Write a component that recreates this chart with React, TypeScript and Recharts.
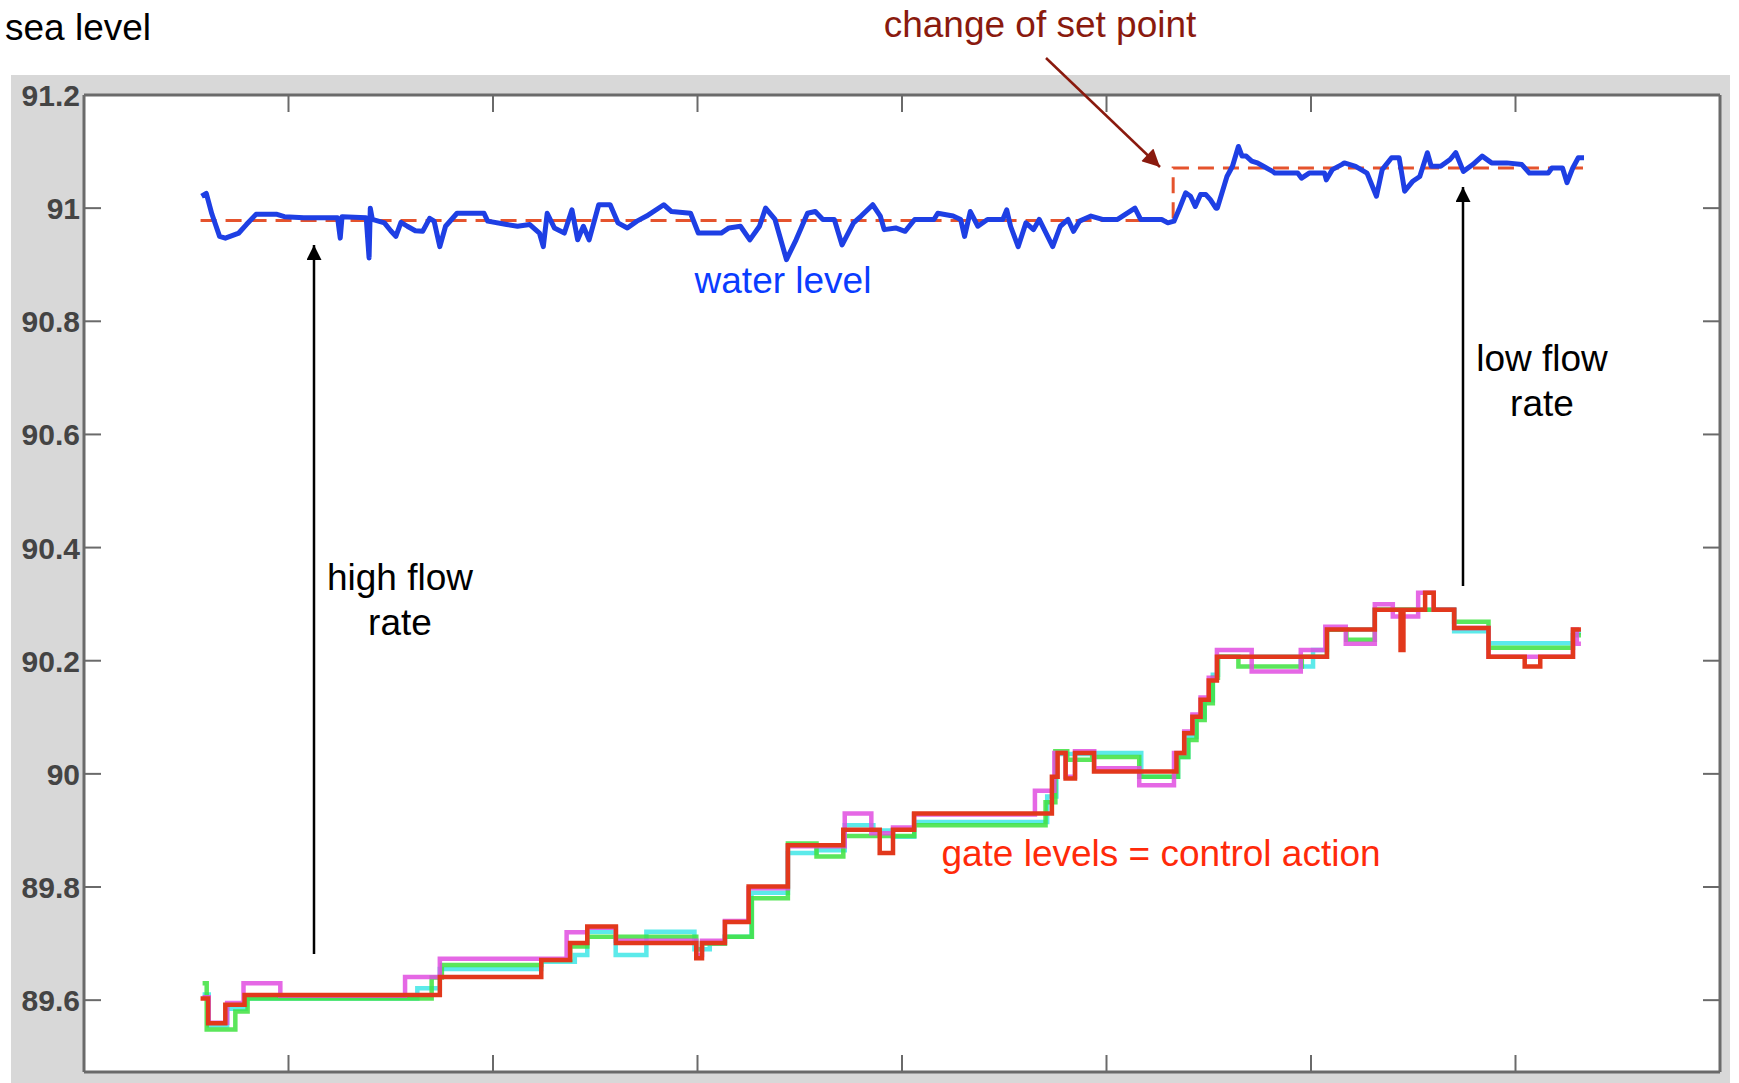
import { LineChart, Line, XAxis, YAxis, CartesianGrid } from 'recharts';

// sea level readings, x in time units (axis runs 0..8)
const waterLevel: [number, number][] = [
  [0.575, 91.021], [0.598, 91.026], [0.625, 90.99], [0.663, 90.95], [0.691, 90.947],
  [0.757, 90.956], [0.794, 90.971], [0.841, 90.989], [0.944, 90.989], [0.98, 90.985],
  [1.075, 90.983], [1.24, 90.983], [1.253, 90.947], [1.262, 90.985], [1.38, 90.983],
  [1.394, 90.912], [1.4, 91.0], [1.41, 90.98], [1.469, 90.974], [1.5, 90.96],
  [1.525, 90.95], [1.55, 90.975], [1.581, 90.968], [1.62, 90.96], [1.656, 90.959],
  [1.69, 90.982], [1.712, 90.977], [1.74, 90.932], [1.768, 90.968], [1.824, 90.991],
  [1.956, 90.991], [1.974, 90.977], [2.067, 90.971], [2.12, 90.968], [2.18, 90.971],
  [2.227, 90.956], [2.246, 90.932], [2.265, 90.991], [2.3, 90.965], [2.349, 90.956],
  [2.386, 90.997], [2.414, 90.944], [2.442, 90.968], [2.47, 90.944], [2.517, 91.006],
  [2.573, 91.006], [2.611, 90.974], [2.657, 90.965], [2.704, 90.977], [2.751, 90.986],
  [2.835, 91.006], [2.873, 90.994], [2.966, 90.991], [3.004, 90.956], [3.116, 90.956],
  [3.154, 90.965], [3.21, 90.968], [3.256, 90.944], [3.303, 90.968], [3.333, 91.0],
  [3.379, 90.98], [3.435, 90.909], [3.482, 90.944], [3.538, 90.991], [3.576, 90.994],
  [3.613, 90.98], [3.669, 90.98], [3.707, 90.935], [3.763, 90.974], [3.8, 90.986],
  [3.857, 91.006], [3.894, 90.986], [3.913, 90.962], [3.969, 90.965], [4.015, 90.959],
  [4.062, 90.98], [4.156, 90.98], [4.175, 90.991], [4.25, 90.986], [4.287, 90.98],
  [4.306, 90.95], [4.334, 90.994], [4.371, 90.968], [4.418, 90.98], [4.493, 90.98],
  [4.512, 90.997], [4.531, 90.968], [4.568, 90.932], [4.606, 90.974], [4.643, 90.962],
  [4.671, 90.98], [4.737, 90.932], [4.774, 90.968], [4.812, 90.98], [4.839, 90.959],
  [4.868, 90.977], [4.924, 90.986], [4.98, 90.98], [5.054, 90.98], [5.092, 90.989],
  [5.139, 91.0], [5.167, 90.98], [5.27, 90.98], [5.3, 90.974], [5.33, 90.977],
  [5.354, 90.997], [5.387, 91.027], [5.411, 91.021], [5.434, 91.003], [5.46, 91.024],
  [5.486, 91.024], [5.508, 91.015], [5.535, 91.0], [5.542, 91.0], [5.589, 91.056],
  [5.616, 91.074], [5.645, 91.109], [5.663, 91.092], [5.683, 91.092], [5.71, 91.083],
  [5.738, 91.08], [5.767, 91.074], [5.812, 91.065], [5.823, 91.062], [5.935, 91.062],
  [5.954, 91.053], [5.991, 91.062], [6.066, 91.062], [6.075, 91.05], [6.104, 91.068],
  [6.15, 91.077], [6.163, 91.08], [6.218, 91.074], [6.274, 91.062], [6.32, 91.021],
  [6.348, 91.068], [6.394, 91.089], [6.431, 91.089], [6.458, 91.03], [6.496, 91.047],
  [6.532, 91.056], [6.569, 91.098], [6.588, 91.074], [6.634, 91.074], [6.68, 91.086],
  [6.708, 91.098], [6.745, 91.065], [6.791, 91.077], [6.837, 91.092], [6.883, 91.08],
  [6.957, 91.08], [7.031, 91.077], [7.068, 91.062], [7.16, 91.062], [7.178, 91.071],
  [7.23, 91.071], [7.252, 91.045], [7.28, 91.071], [7.307, 91.089], [7.335, 91.089],
];

const setPoint: [number, number][] = [
  [0.57, 90.978], [5.326, 91.071], [7.33, 91.071],
];

// gate levels (step signals)
const gateRed: [number, number][] = [
  [0.57, 89.603], [0.607, 89.559], [0.691, 89.592], [0.785, 89.609], [1.74, 89.641],
  [2.236, 89.671], [2.377, 89.701], [2.461, 89.73], [2.601, 89.701], [2.994, 89.674],
  [3.022, 89.701], [3.134, 89.738], [3.25, 89.801], [3.442, 89.874], [3.713, 89.901],
  [3.891, 89.86], [3.956, 89.901], [4.059, 89.93], [4.733, 89.995], [4.761, 90.037],
  [4.8, 89.992], [4.846, 90.037], [4.939, 90.004], [5.342, 90.037], [5.38, 90.072],
  [5.42, 90.101], [5.46, 90.131], [5.5, 90.165], [5.54, 90.207], [6.078, 90.255],
  [6.312, 90.29], [6.438, 90.219], [6.452, 90.29], [6.558, 90.32], [6.6, 90.29],
  [6.7, 90.258], [6.868, 90.207], [7.045, 90.19], [7.121, 90.207], [7.281, 90.255],
  [7.32, 90.255],
];

const gateGreen: [number, number][] = [
  [0.58, 89.63], [0.6, 89.548], [0.74, 89.58], [0.8, 89.603], [1.7, 89.64],
  [1.75, 89.662], [2.236, 89.671], [2.377, 89.695], [2.461, 89.712], [2.994, 89.69],
  [3.022, 89.7], [3.134, 89.712], [3.266, 89.78], [3.442, 89.877], [3.582, 89.854],
  [3.713, 89.89], [4.06, 89.909], [4.702, 89.95], [4.75, 90.04], [4.808, 90.025],
  [4.93, 90.03], [5.16, 89.995], [5.35, 90.03], [5.4, 90.06], [5.44, 90.095],
  [5.48, 90.125], [5.52, 90.17], [5.545, 90.207], [5.645, 90.19], [5.955, 90.207],
  [6.078, 90.255], [6.173, 90.237], [6.312, 90.29], [6.7, 90.269], [6.868, 90.223],
  [7.281, 90.245], [7.32, 90.245],
];

const gateCyan: [number, number][] = [
  [0.58, 89.61], [0.61, 89.555], [0.7, 89.585], [0.79, 89.603], [1.63, 89.621],
  [1.74, 89.655], [2.236, 89.668], [2.4, 89.68], [2.461, 89.721], [2.6, 89.68],
  [2.75, 89.721], [2.985, 89.69], [3.06, 89.7], [3.134, 89.712], [3.264, 89.79],
  [3.442, 89.86], [3.582, 89.865], [3.72, 89.909], [3.86, 89.9], [3.956, 89.889],
  [4.06, 89.915], [4.71, 89.96], [4.755, 90.035], [4.93, 90.037], [5.17, 89.995],
  [5.35, 90.03], [5.4, 90.065], [5.44, 90.1], [5.48, 90.13], [5.52, 90.175],
  [5.545, 90.207], [5.95, 90.19], [6.01, 90.219], [6.078, 90.255], [6.312, 90.29],
  [6.7, 90.252], [6.868, 90.231], [7.281, 90.25], [7.32, 90.25],
];

const gateMagenta: [number, number][] = [
  [0.58, 89.605], [0.61, 89.56], [0.7, 89.595], [0.78, 89.63], [0.96, 89.608],
  [1.57, 89.641], [1.74, 89.673], [2.36, 89.72], [2.461, 89.728], [2.601, 89.705],
  [2.994, 89.68], [3.022, 89.705], [3.134, 89.74], [3.25, 89.798], [3.442, 89.872],
  [3.72, 89.93], [3.85, 89.895], [3.956, 89.905], [4.059, 89.928], [4.65, 89.97],
  [4.745, 90.037], [4.8, 89.995], [4.846, 90.04], [4.94, 90.01], [5.16, 89.98],
  [5.33, 90.037], [5.38, 90.075], [5.42, 90.105], [5.46, 90.135], [5.5, 90.17],
  [5.54, 90.219], [5.71, 90.181], [5.95, 90.219], [6.07, 90.26], [6.17, 90.23],
  [6.312, 90.3], [6.4, 90.278], [6.524, 90.32], [6.6, 90.29], [6.7, 90.258],
  [6.868, 90.207], [7.281, 90.255], [7.3, 90.23], [7.32, 90.23],
];

const xTicks = [1, 2, 3, 4, 5, 6, 7];
const yTicks = [89.6, 89.8, 90, 90.2, 90.4, 90.6, 90.8, 91, 91.2];

const FONT = '"Liberation Sans", Arial, Helvetica, sans-serif';
const FRAME = '#6a6a6a';
const TICK_LEN = 17;
const LABEL_GAP = 4;

const toPoints = (rows: [number, number][]) => rows.map(([x, y]) => ({ x, y }));

const LeftTick = (props: any) => {
  const { x, y, payload } = props;
  const ax = x + LABEL_GAP;
  return (
    <g>
      <line x1={ax} x2={ax + TICK_LEN} y1={y} y2={y} stroke={FRAME} strokeWidth={2} />
      <text x={x} y={y} dy={11} textAnchor="end" fontSize={30} fontWeight="bold" fill="#444" fontFamily={FONT}>
        {payload.value}
      </text>
    </g>
  );
};

const RightTick = (props: any) => (
  <line x1={props.x} x2={props.x - TICK_LEN} y1={props.y} y2={props.y} stroke={FRAME} strokeWidth={2} />
);

const BottomTick = (props: any) => (
  <line x1={props.x} x2={props.x} y1={props.y} y2={props.y - TICK_LEN} stroke={FRAME} strokeWidth={2} />
);

const TopTick = (props: any) => (
  <line x1={props.x} x2={props.x} y1={props.y} y2={props.y + TICK_LEN} stroke={FRAME} strokeWidth={2} />
);

const gateSeries = [
  { name: 'gate 3', rows: gateCyan, color: '#3fe6e6' },
  { name: 'gate 2', rows: gateGreen, color: '#3ee23e' },
  { name: 'gate 4', rows: gateMagenta, color: '#e14de1' },
  { name: 'gate 1', rows: gateRed, color: '#e2381c' },
];

export default function App() {
  return (
    <div style={{ position: 'absolute', left: 0, top: 0, width: 1739, height: 1083, background: '#fff', fontFamily: FONT }}>
      <div style={{ position: 'absolute', left: 11, top: 75, width: 1719, height: 1008, background: '#d8d8d8' }} />
      <div style={{ position: 'absolute', left: 0, top: 0 }}>
        <LineChart width={1739} height={1083} margin={{ top: 94, right: 18, bottom: 10, left: 0 }}>
          <XAxis
            xAxisId="b"
            type="number"
            dataKey="x"
            domain={[0, 8]}
            ticks={xTicks}
            interval={0}
            allowDataOverflow
            height={1}
            tickSize={0}
            tickMargin={0}
            tickLine={false}
            tick={BottomTick}
            axisLine={{ stroke: FRAME, strokeWidth: 3 }}
          />
          <XAxis
            xAxisId="t"
            orientation="top"
            type="number"
            dataKey="x"
            domain={[0, 8]}
            ticks={xTicks}
            interval={0}
            allowDataOverflow
            height={1}
            tickSize={0}
            tickMargin={0}
            tickLine={false}
            tick={TopTick}
            axisLine={{ stroke: FRAME, strokeWidth: 3 }}
          />
          <YAxis
            yAxisId="l"
            type="number"
            dataKey="y"
            domain={[89.473, 91.2]}
            ticks={yTicks}
            interval={0}
            allowDataOverflow
            width={84}
            tickSize={0}
            tickMargin={LABEL_GAP}
            tickLine={false}
            tick={LeftTick}
            axisLine={{ stroke: FRAME, strokeWidth: 3 }}
          />
          <YAxis
            yAxisId="r"
            orientation="right"
            type="number"
            dataKey="y"
            domain={[89.473, 91.2]}
            ticks={yTicks}
            interval={0}
            allowDataOverflow
            width={1}
            tickSize={0}
            tickMargin={0}
            tickLine={false}
            tick={RightTick}
            axisLine={{ stroke: FRAME, strokeWidth: 3 }}
          />
          <CartesianGrid xAxisId="b" yAxisId="l" fill="#fff" horizontal={false} vertical={false} stroke="none" />

          {gateSeries.map((s) => (
            <Line
              key={s.name}
              xAxisId="b"
              yAxisId="l"
              data={toPoints(s.rows)}
              dataKey="y"
              type="stepAfter"
              stroke={s.color}
              strokeWidth={4.5}
              strokeOpacity={s.name === 'gate 1' ? 1 : 0.85}
              dot={false}
              isAnimationActive={false}
            />
          ))}

          <Line
            xAxisId="b"
            yAxisId="l"
            data={toPoints(setPoint)}
            dataKey="y"
            type="stepAfter"
            stroke="#e5532d"
            strokeWidth={3}
            strokeDasharray="16 9"
            dot={false}
            isAnimationActive={false}
          />
          <Line
            xAxisId="b"
            yAxisId="l"
            data={toPoints(waterLevel)}
            dataKey="y"
            type="linear"
            stroke="#1e3fe4"
            strokeWidth={5}
            strokeLinejoin="round"
            dot={false}
            isAnimationActive={false}
          />
        </LineChart>
      </div>

      <svg
        width={1739}
        height={1083}
        style={{ position: 'absolute', left: 0, top: 0, pointerEvents: 'none' }}
        fontFamily={FONT}
      >
        <defs>
          <marker id="headBlack" viewBox="0 0 10 10" refX="10" refY="5" markerWidth="6" markerHeight="6" markerUnits="strokeWidth" orient="auto">
            <path d="M0,0 L10,5 L0,10 z" fill="#000" />
          </marker>
          <marker id="headRed" viewBox="0 0 10 10" refX="10" refY="5" markerWidth="8" markerHeight="7" markerUnits="strokeWidth" orient="auto">
            <path d="M0,0 L10,5 L0,10 z" fill="#8a1a0e" />
          </marker>
        </defs>

        <text x={5} y={40} fontSize={37} fill="#000">sea level</text>
        <text x={1040} y={37} fontSize={37} fill="#8a1a0e" textAnchor="middle">change of set point</text>
        <line x1={1046} y1={58} x2={1160} y2={167} stroke="#8a1a0e" strokeWidth={2.5} markerEnd="url(#headRed)" />

        <text x={783} y={293} fontSize={37} fill="#0a3cff" textAnchor="middle">water level</text>

        <text x={400} y={590} fontSize={37} fill="#000" textAnchor="middle">high flow</text>
        <text x={400} y={635} fontSize={37} fill="#000" textAnchor="middle">rate</text>
        <line x1={314} y1={954} x2={314} y2={245} stroke="#000" strokeWidth={2.5} markerEnd="url(#headBlack)" />

        <text x={1542} y={371} fontSize={37} fill="#000" textAnchor="middle">low flow</text>
        <text x={1542} y={416} fontSize={37} fill="#000" textAnchor="middle">rate</text>
        <line x1={1463} y1={586} x2={1463} y2={187} stroke="#000" strokeWidth={2.5} markerEnd="url(#headBlack)" />

        <text x={1161} y={866} fontSize={37} fill="#ff2a0a" textAnchor="middle">gate levels = control action</text>
      </svg>
    </div>
  );
}
